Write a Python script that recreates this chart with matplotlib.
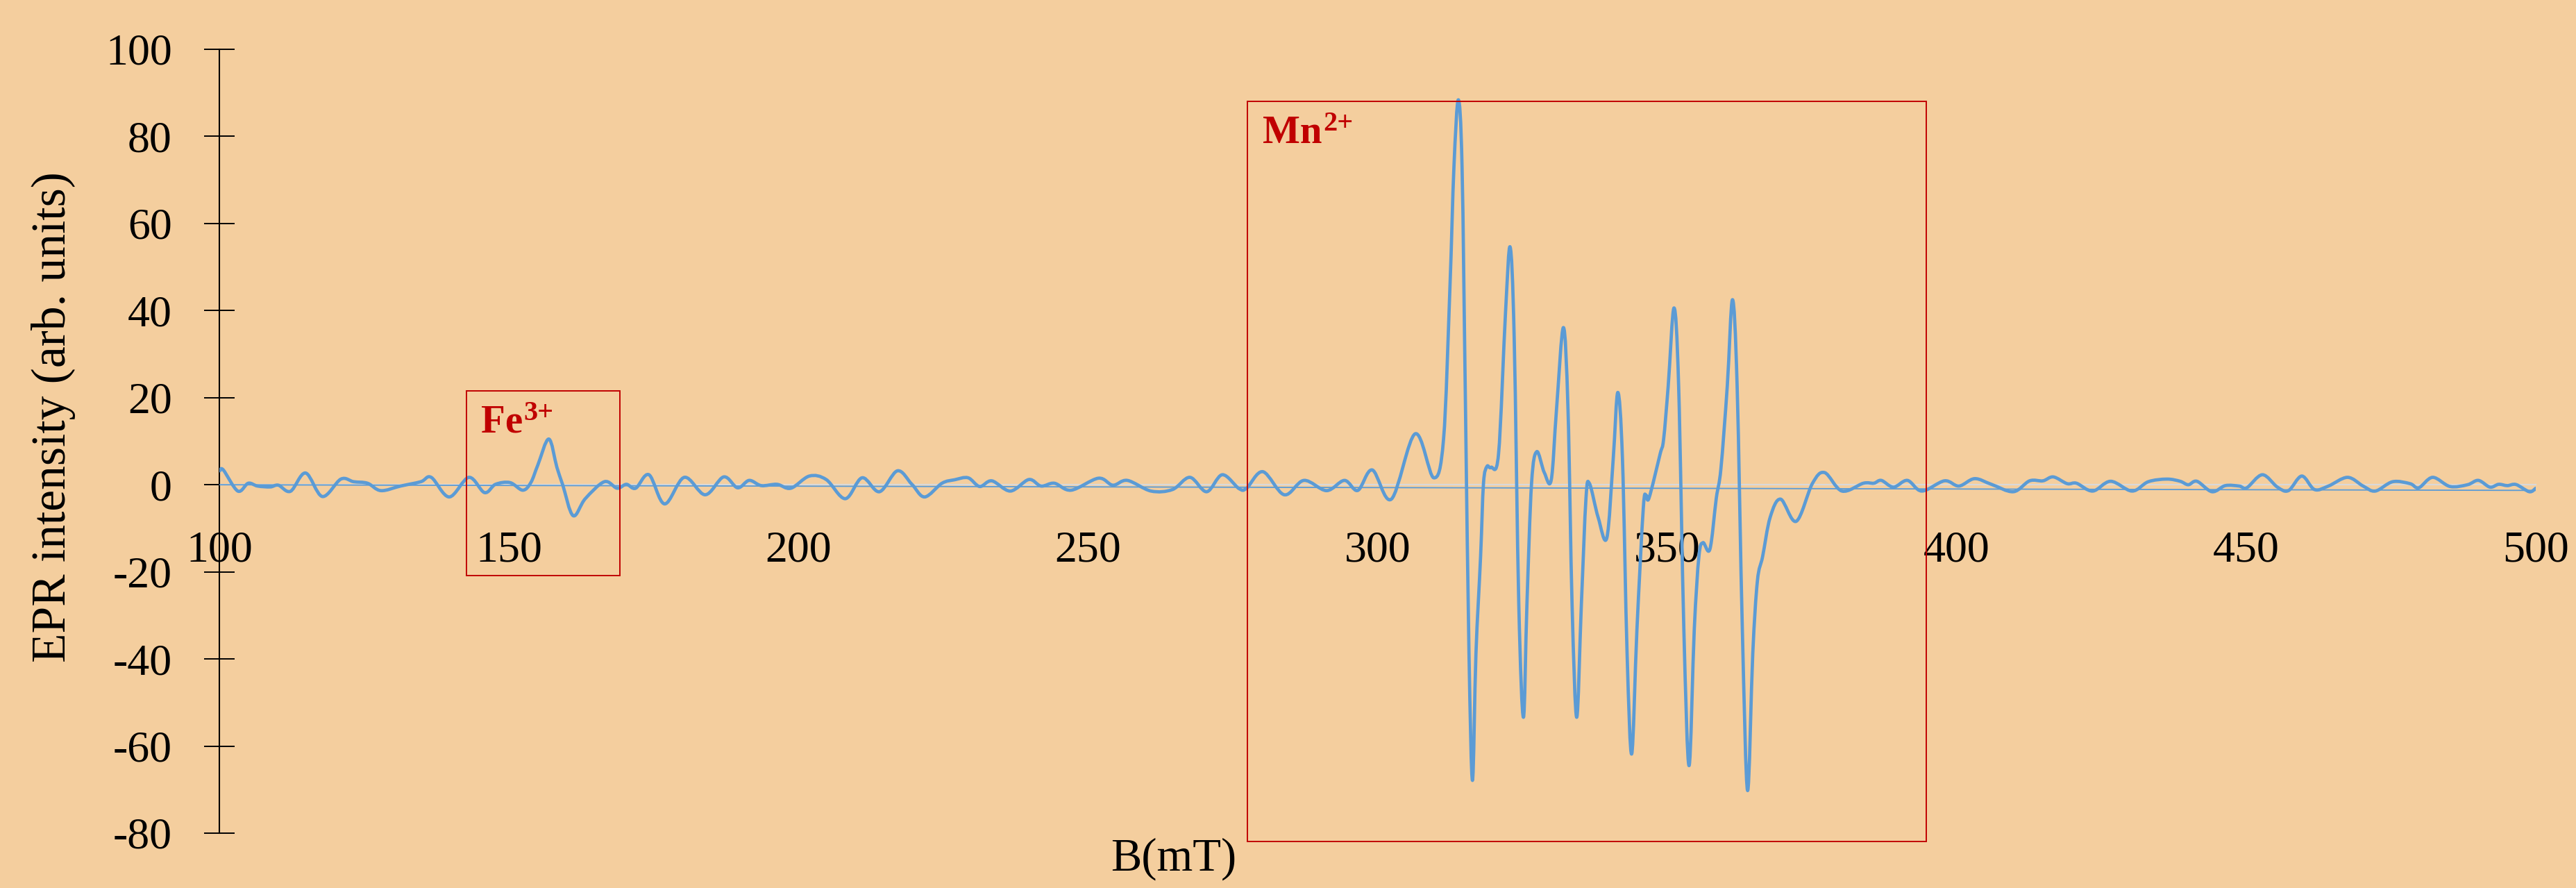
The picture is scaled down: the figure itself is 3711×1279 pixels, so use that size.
import numpy as np
import matplotlib
matplotlib.use("Agg")
import matplotlib.pyplot as plt
from matplotlib.path import Path
from matplotlib.patches import PathPatch, Rectangle

plt.rcParams['font.family'] = ['Liberation Serif', 'DejaVu Serif']
plt.rcParams['axes.unicode_minus'] = False

# EPR spectrum (B in mT, intensity arb. units)
field_mT = [
    100.1, 100.7, 103.2, 105.0, 106.6, 108.8, 110.2, 112.3, 114.9, 117.8,
    121.0, 123.2, 125.6, 127.9, 131.3, 134.8, 136.6, 139.7, 143.1, 145.8,
    147.7, 150.2, 152.4, 153.8, 155.0, 156.9, 158.3, 159.3, 161.1, 163.2,
    166.5, 168.7, 170.3, 171.9, 174.2, 176.9, 180.3, 183.9, 187.1, 189.5,
    191.5, 193.6, 196.3, 198.7, 201.9, 204.8, 208.1, 211.0, 214.0, 217.1,
    219.6, 221.8, 224.8, 227.0, 229.3, 231.3, 233.4, 236.6, 239.8, 241.9,
    244.2, 247.1, 251.8, 254.3, 256.8, 260.9, 264.6, 267.6, 270.5, 273.2,
    276.1, 277.4, 280.2, 283.9, 287.3, 291.2, 294.3, 296.6, 299.1, 302.4,
    306.5, 309.7, 311.4, 312.5, 313.2, 313.95, 314.6, 315.2, 315.8, 316.4,
    317.0, 317.8, 318.3, 318.9, 319.6, 320.9, 322.1, 322.9, 323.6, 324.4,
    325.2, 325.8, 326.6, 327.5, 328.8, 330.0, 330.9, 332.1, 332.9, 333.6,
    334.4, 335.2, 336.0, 336.6, 338.1, 339.6, 340.7, 341.5, 342.3, 343.1,
    343.9, 344.8, 345.9, 346.4, 346.9, 348.8, 349.4, 350.2, 351.2, 352.0,
    352.9, 353.8, 354.7, 355.5, 356.2, 357.4, 358.5, 359.3, 360.4, 361.3,
    362.1, 363.0, 363.9, 364.8, 365.6, 366.5, 367.8, 369.6, 372.3, 375.1,
    377.2, 380.2, 383.9, 385.7, 387.0, 389.1, 391.5, 394.0, 397.9, 400.4,
    403.1, 406.0, 409.8, 412.6, 414.9, 416.7, 419.1, 420.7, 423.5, 426.6,
    430.3, 433.1, 436.3, 438.6, 440.0, 441.5, 444.1, 446.4, 448.8, 450.1,
    452.8, 455.4, 457.3, 459.6, 461.8, 464.2, 467.5, 470.2, 472.3, 475.3,
    478.3, 479.8, 482.2, 485.2, 488.2, 490.1, 492.1, 493.6, 495.1, 496.6,
    498.9, 500.0,
]
intensity = [
    3.2, 3.4, -1.45, 0.35, -0.3, -0.5, -0.1, -1.5, 2.7, -2.7,
    1.3, 0.7, 0.35, -1.35, -0.3, 0.7, 1.7, -2.8, 1.7, -1.8,
    0.1, 0.5, -1.25, 0.5, 4.5, 10.5, 4.0, 0.0, -7.1, -3.2,
    0.7, -0.8, 0.1, -0.8, 2.3, -4.4, 1.7, -2.3, 1.8, -0.7,
    1.0, -0.2, 0.1, -0.8, 2.0, 1.2, -3.2, 1.6, -1.6, 3.2,
    0.1, -2.8, 0.35, 1.15, 1.6, -0.4, 0.9, -1.45, 1.2, -0.3,
    0.35, -1.25, 1.5, -0.1, 1.0, -1.45, -1.1, 1.7, -1.6, 2.3,
    -0.9, -0.8, 3.0, -2.3, 1.0, -1.35, 1.0, -1.3, 3.4, -3.3,
    11.7, 1.6, 10.4, 45.0, 73.0, 88.4, 73.0, 17.1, -38.8, -67.9,
    -38.8, -16.5, 0.3, 4.2, 4.0, 7.05, 39.4, 54.6, 33.9, -27.6,
    -53.4, -27.6, 0.3, 7.6, 2.8, 1.1, 17.1, 36.1, 17.1, -27.6,
    -53.4, -27.6, -3.1, 0.3, -7.5, -12.2, 5.9, 21.2, 5.9, -38.8,
    -61.8, -33.2, -5.3, -2.5, -3.0, 7.05, 10.4, 22.7, 40.6, 22.7,
    -33.2, -64.5, -33.2, -16.5, -13.3, -14.8, -3.1, 3.7, 22.7, 42.5,
    22.7, -33.2, -70.2, -38.8, -22.1, -16.5, -7.5, -3.3, -8.4, 0.3,
    2.8, -1.45, 0.35, 0.35, 1.0, -0.55, 1.0, -1.45, 0.9, -0.3,
    1.4, 0.1, -1.6, 0.9, 0.9, 1.8, 0.25, 0.35, -1.45, 0.8,
    -1.45, 0.7, 1.3, 0.8, 0.0, 0.8, -1.6, -0.2, -0.3, -0.7,
    2.3, -0.55, -1.35, 2.0, -1.1, -0.3, 1.7, -0.3, -1.45, 0.7,
    0.25, -0.7, 1.7, -0.4, 0.0, 1.0, -0.55, 0.1, -0.2, 0.05,
    -1.6, -0.8,
]

# thin baseline series
baseline_x = [100, 500]
baseline_y = [0.0, -1.3]

x_ticks = [100, 150, 200, 250, 300, 350, 400, 450, 500]
y_ticks = [-80, -60, -40, -20, 0, 20, 40, 60, 80, 100]

# highlighted regions: (ion, charge, B_start, B_end, I_low, I_high, label x, label y)
fe_box = ("Fe", "3+", 142.7, 169.2, -20.9, 21.6, 145.2, 12.0)
mn_box = ("Mn", "2+", 277.5, 394.8, -81.9, 88.1, 280.2, 78.5)

bg = '#F4CE9E'
blue = '#5B9BD5'
red = '#C00000'


def smooth_path(x, y):
    # smoothed line through the points, like a spreadsheet "smooth line"
    pts = np.column_stack([x, y])
    n = len(pts)
    verts = [pts[0]]
    codes = [Path.MOVETO]
    for i in range(n - 1):
        p0 = pts[max(i - 1, 0)]
        p1 = pts[i]
        p2 = pts[i + 1]
        p3 = pts[min(i + 2, n - 1)]
        verts += [p1 + (p2 - p0) / 6, p2 - (p3 - p1) / 6, p2]
        codes += [Path.CURVE4] * 3
    return Path(verts, codes)


fig = plt.figure(figsize=(37.12, 12.79), dpi=100, facecolor=bg)
ax = fig.add_axes([0.0851, 0.0618, 0.899, 0.8827])
ax.set_facecolor(bg)

ax.set_xlim(100, 500)
ax.set_ylim(-80, 100)

ax.plot(baseline_x, baseline_y, color=blue, lw=1.3, zorder=3)
ax.add_patch(PathPatch(smooth_path(field_mT, intensity), fill=False,
                       edgecolor=blue, lw=3.4, zorder=4, capstyle='round',
                       joinstyle='round'))

for ion, charge, x0, x1, y0, y1, lx, ly in (fe_box, mn_box):
    ax.add_patch(Rectangle((x0, y0), x1 - x0, y1 - y0, fill=False,
                           edgecolor=red, lw=1.4, clip_on=False, zorder=5))
    t = ax.text(lx, ly, ion, color=red, fontsize=41, fontweight='bold',
                ha='left', va='baseline', zorder=6)
    ax.annotate(charge, xy=(1, 1), xycoords=t, xytext=(1, 4),
                textcoords='offset points', color=red, fontsize=29,
                fontweight='bold', ha='left', va='top', zorder=6)

for s in ['top', 'right']:
    ax.spines[s].set_visible(False)
ax.spines['bottom'].set_position(('data', 0))
ax.spines['bottom'].set_color('#D9D9D9')
ax.spines['bottom'].set_linewidth(1.6)
ax.spines['bottom'].set_zorder(2)
ax.spines['left'].set_color('black')
ax.spines['left'].set_linewidth(1.5)

ax.set_xticks(x_ticks)
ax.set_yticks(y_ticks)
ax.tick_params(axis='x', length=0, pad=48, labelsize=46)
ax.tick_params(axis='y', direction='inout', length=32, width=1.4,
               pad=33, labelsize=46, color='black')

ax.set_xlabel('B(mT)', fontsize=48)
ax.xaxis.set_label_coords(0.412, -0.006)
ax.set_ylabel('EPR intensity (arb. units)', fontsize=50)
ax.yaxis.set_label_coords(-0.062, 0.531)

fig.savefig('out.png', dpi=100, facecolor=bg)
